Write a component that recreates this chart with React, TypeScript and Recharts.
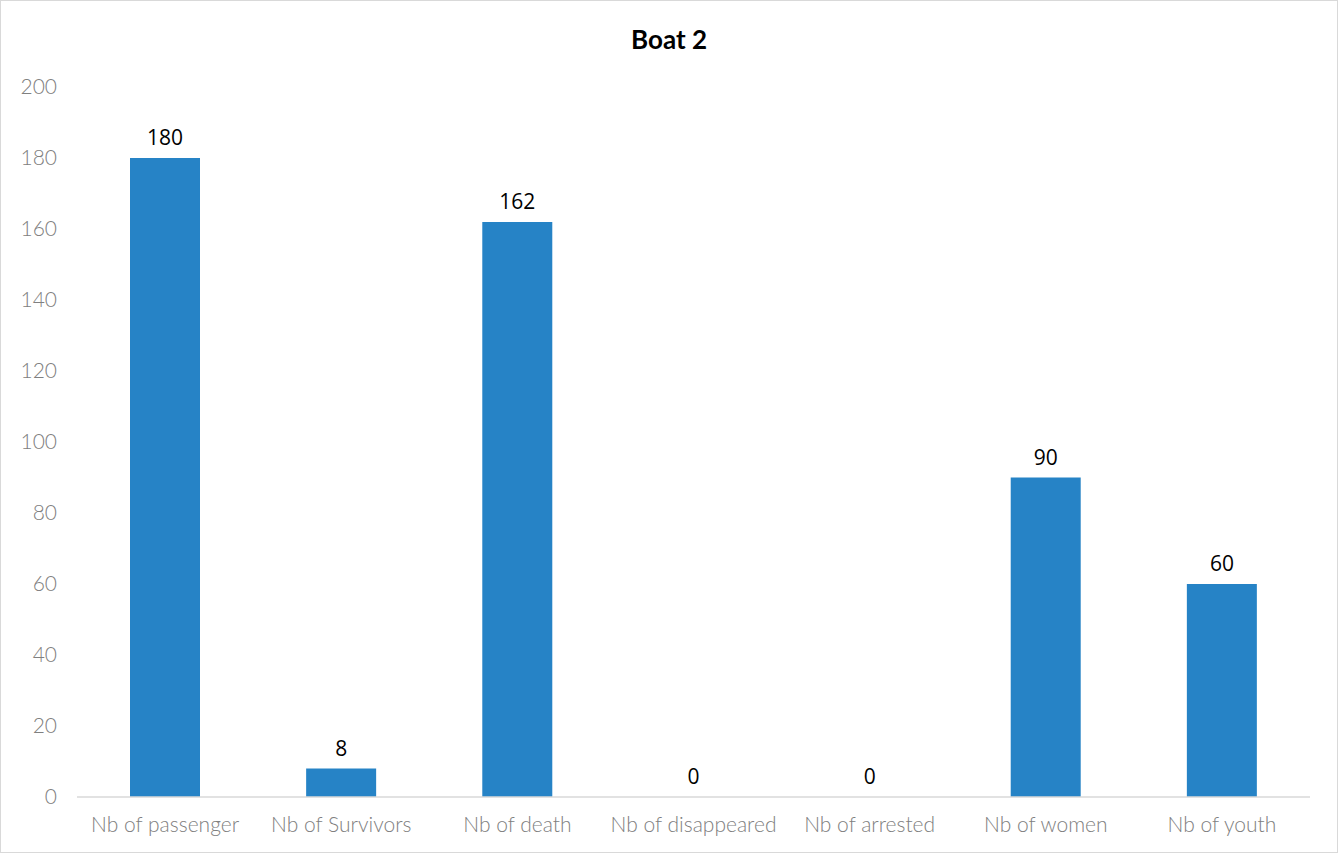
import { Bar, ComposedChart, LabelList, Line, XAxis, YAxis } from "recharts";

const categories = [
  "Nb of passenger",
  "Nb of Survivors",
  "Nb of death",
  "Nb of disappeared",
  "Nb of arrested",
  "Nb of women",
  "Nb of youth",
];
const counts = [180, 8, 162, 0, 0, 90, 60];
const yTicks = [0, 20, 40, 60, 80, 100, 120, 140, 160, 180, 200];

const data = categories.map((name, i) => ({ name, value: counts[i] }));

const tickStyle = { fill: "#808080", fontSize: 21, fontWeight: 300, fontFamily: "Lato" };

const App = () => {
  return (
    <div
      style={{
        position: "absolute",
        left: 0,
        top: 0,
        width: 1338,
        height: 853,
        boxSizing: "border-box",
        border: "1px solid #d9d9d9",
        background: "#fff",
        fontFamily: "Lato, sans-serif",
      }}
    >
      <div
        style={{
          position: "absolute",
          top: 22,
          left: 0,
          width: 1336,
          textAlign: "center",
          fontSize: 26,
          fontWeight: 700,
          color: "#000",
        }}
      >
        Boat 2
      </div>
      <ComposedChart
        width={1336}
        height={851}
        data={data}
        margin={{ top: 86, right: 27, left: 0, bottom: 25 }}
      >
        <XAxis
          dataKey="name"
          height={30}
          interval={0}
          tickLine={false}
          tickSize={0}
          tickMargin={20}
          axisLine={{ stroke: "#d9d9d9", strokeWidth: 1.5 }}
          tick={tickStyle}
        />
        <YAxis
          width={76}
          domain={[0, 200]}
          ticks={yTicks}
          interval={0}
          axisLine={false}
          tickLine={false}
          tickSize={0}
          tickMargin={20}
          tick={tickStyle}
        />
        <Bar dataKey="value" fill="#2683C6" barSize={70} isAnimationActive={false} />
        {/* invisible line just to carry the value labels, zeros included */}
        <Line
          dataKey="value"
          stroke="none"
          dot={false}
          activeDot={false}
          isAnimationActive={false}
        >
          <LabelList
            dataKey="value"
            position="top"
            offset={13}
            style={{ fill: "#000", fontSize: 21, fontFamily: "Open Sans" }}
          />
        </Line>
      </ComposedChart>
    </div>
  );
};

export default App;
